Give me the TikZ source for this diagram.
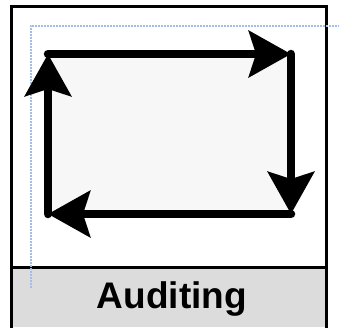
\documentclass[tikz,border=0pt]{standalone}
\usepackage{fontspec}
\setmainfont{Liberation Sans}
\usetikzlibrary{arrows.meta}
\definecolor{panelgray}{HTML}{DCDCDC}
\definecolor{cyclefill}{HTML}{F7F7F7}
\definecolor{guideblue}{HTML}{A4BDE6}
\tikzset{
  frameline/.style={line width=3pt, draw=black},
  cycleside/.style={line width=8.5pt, line cap=round,
    -{Stealth[length=42pt, width=46pt, inset=7pt]}},
  guide/.style={draw=guideblue, line width=2pt, dash pattern=on 1pt off 0.5pt},
}
\begin{document}
\begin{tikzpicture}[x=1pt, y=-1pt]
  \useasboundingbox (0,0) rectangle (339,327);
  % outer frame and caption band
  \fill[white] (11,6) rectangle (326,327);
  \fill[panelgray] (11,267) rectangle (326,327);
  \draw[frameline] (11,328) -- (11,6) -- (326,6) -- (326,328);
  \draw[frameline] (11,267) -- (326,267);
  % corners of the cycle
  \coordinate (tl) at (48,54);
  \coordinate (tr) at (291,54);
  \coordinate (br) at (291,214);
  \coordinate (bl) at (48,214);
  \fill[cyclefill] (tl) rectangle (br);
  % layout guide
  \coordinate (g1) at (31,288);
  \coordinate (g2) at (31,26);
  \coordinate (g3) at (339,26);
  \draw[guide] (g1) -- (g2) -- (g3);
  % clockwise arrows
  \draw[cycleside] (tl) -- (tr);
  \draw[cycleside] (tr) -- (br);
  \draw[cycleside] (br) -- (bl);
  \draw[cycleside] (bl) -- (tl);
  % caption
  \node[font=\bfseries\fontsize{37}{40}\selectfont, anchor=base] (caption) at (172,308) {Auditing};
\end{tikzpicture}
\end{document}
